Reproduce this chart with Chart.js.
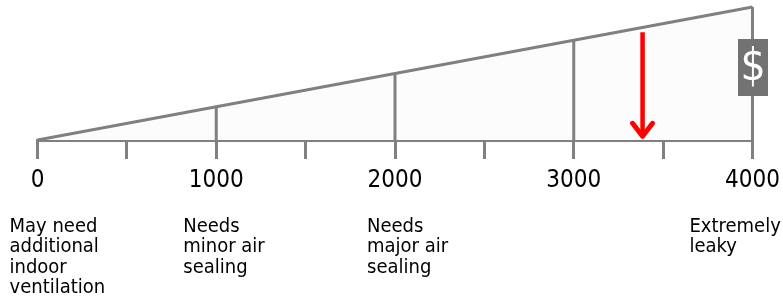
<!DOCTYPE html>
<html>
<head>
<meta charset="utf-8">
<script src="https://cdn.jsdelivr.net/npm/chart.js@4"></script>
<style>
  html, body { margin: 0; padding: 0; background: #ffffff; }
  #wrap { position: relative; width: 783px; height: 297px; }
</style>
</head>
<body>
<div id="wrap"><canvas id="c" width="783" height="297"></canvas></div>
<script>
// ---- data ----
const tickValues = [0, 1000, 2000, 3000, 4000];
const tickLabels = ['0', '1000', '2000', '3000', '4000'];
const markerValues = [1000, 2000, 3000, 4000];       // vertical dividers
const markerHeights = [0.25, 0.5, 0.75, 1.0];         // height of the wedge at each divider
const wedgeX = [0, 4000];
const wedgeY = [0, 1.0];
const categoryAnchors = [0, 1000, 2000, 4000];
const categoryTexts = [
  ['May need', 'additional', 'indoor', 'ventilation'],
  ['Needs', 'minor air', 'sealing'],
  ['Needs', 'major air', 'sealing'],
  ['Extremely', 'leaky']
];
const resultValue = 3385;      // red arrow position
const arrowTopValue = 0.81;
const arrowTipValue = 0.02;
const costSymbol = '$';
const costSymbolValue = 0.545; // vertical centre of the $ box

// ---- styles ----
const GRAY = '#808080';
const FONT = "'DejaVu Sans Condensed', 'DejaVu Sans', sans-serif";
const categoryOffsets = [-28, -33, -28, -63];

const datasets = [{
  label: 'wedge',
  data: wedgeX.map((x, i) => ({ x, y: wedgeY[i] })),
  borderColor: GRAY,
  borderWidth: 3,
  backgroundColor: '#fcfcfc',
  fill: 'origin',
  pointRadius: 0,
  clip: false,
  order: 2
}];
markerValues.forEach((v, i) => {
  datasets.push({
    label: 'm' + v,
    data: [{ x: v, y: 0 }, { x: v, y: markerHeights[i] }],
    borderColor: GRAY,
    borderWidth: 3,
    pointRadius: 0,
    fill: false,
    clip: false,
    order: 1
  });
});

const overlay = {
  id: 'overlay',
  afterDraw(chart) {
    const { ctx, scales: { x, y } } = chart;
    ctx.save();
    // red arrow
    const ax = x.getPixelForValue(resultValue);
    const aTop = y.getPixelForValue(arrowTopValue);
    const aTip = y.getPixelForValue(arrowTipValue);
    ctx.strokeStyle = '#ff0000';
    ctx.lineWidth = 4.5;
    ctx.lineCap = 'butt';
    ctx.beginPath();
    ctx.moveTo(ax, aTop);
    ctx.lineTo(ax, aTip - 3);
    ctx.stroke();
    ctx.lineWidth = 5;
    ctx.lineCap = 'round';
    ctx.lineJoin = 'round';
    ctx.beginPath();
    ctx.moveTo(ax - 10, aTip - 14);
    ctx.lineTo(ax, aTip - 1);
    ctx.lineTo(ax + 10, aTip - 14);
    ctx.stroke();

    // $ box
    const bx = x.getPixelForValue(4000);
    const by = y.getPixelForValue(costSymbolValue);
    ctx.fillStyle = '#727272';
    ctx.fillRect(bx - 14.5, by - 28.5, 30, 57);
    ctx.fillStyle = '#ffffff';
    ctx.font = '44px ' + FONT;
    ctx.textAlign = 'center';
    ctx.textBaseline = 'middle';
    ctx.fillText(costSymbol, bx + 0.5, by + 1);

    // category texts
    ctx.fillStyle = '#000000';
    ctx.font = '20px ' + FONT;
    ctx.textAlign = 'left';
    ctx.textBaseline = 'alphabetic';
    categoryTexts.forEach((lines, i) => {
      const px = x.getPixelForValue(categoryAnchors[i]) + categoryOffsets[i];
      lines.forEach((t, j) => ctx.fillText(t, px, 231.5 + j * 20.6));
    });
    ctx.restore();
  }
};

new Chart(document.getElementById('c'), {
  type: 'line',
  data: { datasets },
  options: {
    responsive: false,
    animation: false,
    events: [],
    layout: { padding: { left: 37.5, right: 30.5, top: 7, bottom: 0 } },
    plugins: { legend: { display: false }, tooltip: { enabled: false } },
    scales: {
      x: {
        type: 'linear',
        min: 0,
        max: 4000,
        afterFit(scale) { scale.height = 157; scale.paddingLeft = 0; scale.paddingRight = 0; },
        border: { display: true, color: GRAY, width: 3 },
        grid: { drawOnChartArea: false, drawTicks: true, tickLength: 19, color: GRAY, lineWidth: 3 },
        ticks: {
          stepSize: 500,
          autoSkip: false,
          maxRotation: 0,
          padding: 7,
          color: '#000000',
          font: { family: FONT, size: 24 },
          callback: (v) => (v % 1000 === 0 ? tickLabels[tickValues.indexOf(v)] : '')
        }
      },
      y: { display: false, min: 0, max: 1 }
    }
  },
  plugins: [overlay]
});
</script>
</body>
</html>
